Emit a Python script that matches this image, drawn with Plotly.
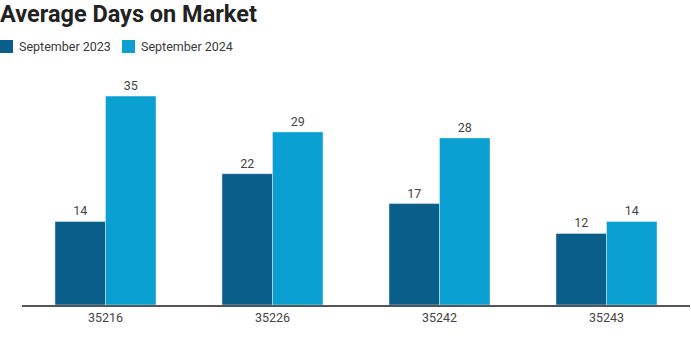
import plotly.graph_objects as go

categories = ["35216", "35226", "35242", "35243"]
sep_2023 = [14, 22, 17, 12]
sep_2024 = [35, 29, 28, 14]
series_names = ["September 2023", "September 2024"]

dark = "#0a5f8a"
light = "#0aa0d2"

W, H = 691, 353
L, R, T, B = 22, 1, 60, 48
pw, ph = W - L - R, H - T - B

def px_x(x):
    return (x - L) / pw

def px_y(y):
    return (H - B - y) / ph

fig = go.Figure()
fig.add_trace(go.Bar(name=series_names[0], x=categories, y=sep_2023,
                     marker_color=dark, text=sep_2023, textposition="outside",
                     textfont=dict(size=12.5, color="#444"), cliponaxis=False))
fig.add_trace(go.Bar(name=series_names[1], x=categories, y=sep_2024,
                     marker_color=light, text=sep_2024, textposition="outside",
                     textfont=dict(size=12.5, color="#444"), cliponaxis=False))

# manual legend
legend_items = [(0, series_names[0], dark), (122, series_names[1], light)]
shapes = []
annotations = []
for x0, name, col in legend_items:
    shapes.append(dict(type="rect", xref="paper", yref="paper",
                       x0=px_x(x0), x1=px_x(x0 + 13), y0=px_y(53), y1=px_y(40),
                       fillcolor=col, line=dict(width=0)))
    annotations.append(dict(xref="paper", yref="paper", x=px_x(x0 + 17), y=px_y(46.5),
                            xanchor="left", yanchor="middle", showarrow=False,
                            text=name, font=dict(size=12.5, color="#3a3a3a")))

fig.update_layout(
    width=W, height=H,
    margin=dict(l=L, r=R, t=T, b=B),
    paper_bgcolor="white", plot_bgcolor="white",
    font=dict(family="Roboto, sans-serif", color="#333"),
    barmode="group", bargap=0.395, bargroupgap=0,
    title=dict(text="<b>Average Days on Market</b>", x=0.0, xref="container", xanchor="left",
               y=1 - 14 / H, yref="container", yanchor="middle",
               font=dict(size=23.5, color="#222")),
    showlegend=False,
    shapes=shapes,
    annotations=annotations,
    xaxis=dict(showline=True, linecolor="#555", linewidth=1.5, ticks="",
               tickfont=dict(size=12.5, color="#444"), showgrid=False),
    yaxis=dict(range=[0, 41.05], showticklabels=False, showgrid=False,
               zeroline=False, showline=False),
)
fig.write_html("out.html")
